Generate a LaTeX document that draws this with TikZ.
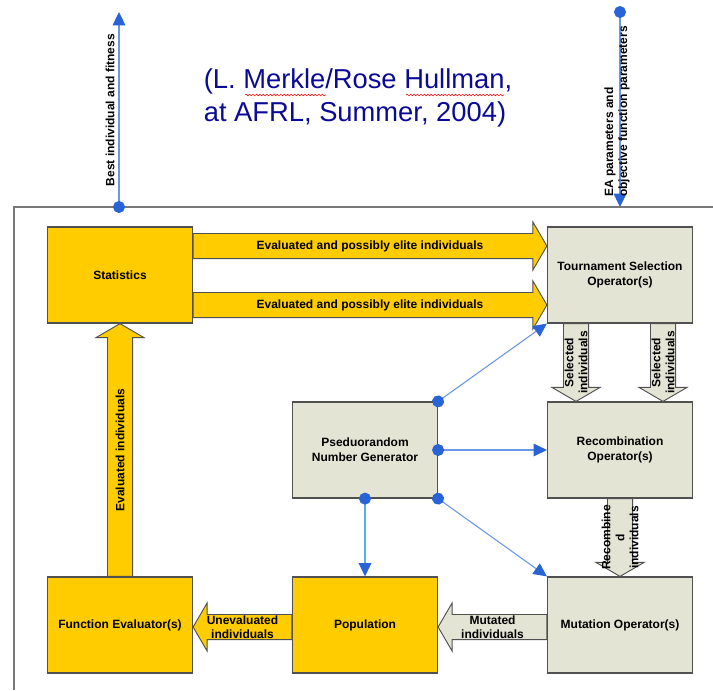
\documentclass[tikz,border=0pt]{standalone}
\usepackage{fontspec}
\setmainfont{Liberation Sans}
\usetikzlibrary{calc,arrows.meta,decorations.pathmorphing}

\definecolor{boxyellow}{RGB}{255,204,0}
\definecolor{boxgray}{RGB}{228,228,212}
\definecolor{edgegray}{RGB}{80,80,80}
\definecolor{framegray}{RGB}{120,120,120}
\definecolor{dotblue}{RGB}{40,100,215}
\definecolor{linkblue}{RGB}{105,150,230}
\definecolor{linkteal}{RGB}{90,175,215}
\definecolor{titleblue}{RGB}{10,10,150}

% block arrow: style, tail, tip, label style, label
\newcommand{\bw}{9.4pt}
\newcommand{\hw}{18pt}
\newcommand{\hl}{10.5pt}
\newcommand{\blockarrow}[5]{%
\path[#1] ($(#2)!\bw!90:(#3)$) -- ($(#3)!\hl!(#2)!\bw!-90:(#2)$) -- ($(#3)!\hl!(#2)!\hw!-90:(#2)$) -- (#3) -- ($(#3)!\hl!(#2)!\hw!90:(#2)$) -- ($(#3)!\hl!(#2)!\bw!90:(#2)$) -- ($(#2)!\bw!-90:(#3)$) -- cycle;
\node[#4] at ($(#2)!.5!(#3)$) {#5};}

\tikzset{
box/.style={draw=edgegray, line width=0.9pt, minimum width=108.75pt, minimum height=72pt, align=center, inner sep=0pt, font=\bfseries\fontsize{9}{11.5}\selectfont},
ybox/.style={box, fill=boxyellow},
gbox/.style={box, fill=boxgray},
yflow/.style={draw=edgegray, fill=boxyellow, line width=0.7pt},
gflow/.style={draw=edgegray, fill=boxgray, line width=0.7pt},
lbl/.style={font=\bfseries\fontsize{9}{10.5}\selectfont, align=center, inner sep=0pt},
vlbl/.style={lbl, rotate=90},
sig/.style={draw=linkblue, line width=0.8pt, shorten <=-4.5pt, {Circle[length=9pt,color=dotblue]}-{Triangle[length=10pt,width=9.5pt,color=dotblue]}},
headline/.style={font=\fontsize{20.5}{24.75}\selectfont, text=titleblue, align=left, inner sep=0pt},
spell/.style={draw=red, line width=0.4pt, decorate, decoration={snake, amplitude=0.6pt, segment length=2.6pt}}
}

\begin{document}
\begin{tikzpicture}[x=0.75pt,y=-0.75pt]
\useasboundingbox (0,0) rectangle (713,690);
\node[headline] (title) at (358,98) {(L. Merkle/Rose Hullman,\\at AFRL, Summer, 2004)};
\path[spell] (245,95) -- (326,95);
\path[spell] (406,95) -- (504,95);
\path[draw=framegray, line width=0.8pt] (14,690) -- (14,207) -- (713,207);

\node[ybox] (stat) at (120,275) {Statistics};
\node[gbox] (tour) at (620,275) {Tournament Selection\\Operator(s)};
\node[gbox] (prng) at (365,450) {Pseduorandom\\Number Generator};
\node[gbox] (recomb) at (620,450) {Recombination\\Operator(s)};
\node[ybox] (feval) at (120,625) {Function Evaluator(s)};
\node[ybox] (pop) at (365,625) {Population};
\node[gbox] (mut) at (620,625) {Mutation Operator(s)};

\coordinate (e1t) at ([yshift=21.75pt]stat.east);
\coordinate (e1h) at (tour.west |- e1t);
\coordinate (e2t) at ([yshift=-22.5pt]stat.east);
\coordinate (e2h) at (tour.west |- e2t);
\blockarrow{yflow}{e1t}{e1h}{lbl}{Evaluated and possibly elite individuals}
\blockarrow{yflow}{e2t}{e2h}{lbl}{Evaluated and possibly elite individuals}
\blockarrow{yflow}{feval.north}{stat.south}{vlbl}{Evaluated individuals}

\coordinate (s1t) at ([xshift=-33pt]tour.south);
\coordinate (s1h) at (recomb.north -| s1t);
\coordinate (s2t) at ([xshift=32.25pt]tour.south);
\coordinate (s2h) at (recomb.north -| s2t);
\blockarrow{gflow}{s1t}{s1h}{vlbl}{Selected\\individuals}
\blockarrow{gflow}{s2t}{s2h}{vlbl}{Selected\\individuals}
\blockarrow{gflow}{recomb.south}{mut.north}{vlbl}{Recombine\\d\\individuals}

\coordinate (mt) at ([yshift=-1.5pt]mut.west);
\coordinate (mh) at (pop.east |- mt);
\coordinate (ut) at ([yshift=-1.5pt]pop.west);
\coordinate (uh) at (feval.east |- ut);
\blockarrow{gflow}{mt}{mh}{lbl}{Mutated\\individuals}
\blockarrow{yflow}{ut}{uh}{lbl}{Unevaluated\\individuals}

\path[sig] (prng.north east) -- (tour.south west);
\path[sig] (prng.east) -- (recomb.west);
\path[sig] (prng.south east) -- (mut.north west);
\path[sig, draw=linkteal] (prng.south) -- (pop.north);

\coordinate (bestout) at (119,207);
\coordinate (besttop) at (119,12);
\path[sig] (bestout) -- (besttop);
\node[vlbl] (bestlbl) at (110,110) {Best individual and fitness};
\coordinate (parin) at (620,12);
\coordinate (parend) at (620,207);
\path[sig] (parin) -- (parend);
\node[vlbl, align=left, anchor=west] (parlbl) at (617,197) {EA parameters and\\objective function parameters};
\end{tikzpicture}
\end{document}
